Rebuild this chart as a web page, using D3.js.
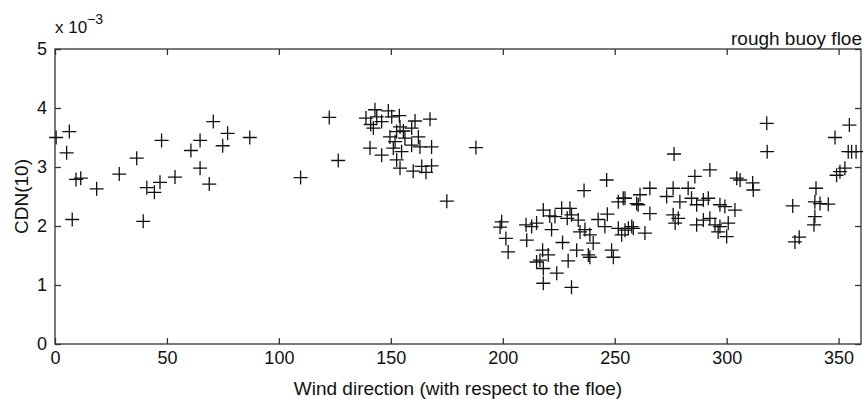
<!DOCTYPE html>
<html lang="en">
<head>
<meta charset="UTF-8">
<script src="https://cdn.jsdelivr.net/npm/d3@7"></script>
<title>CDN(10) vs wind direction</title>
<style>
    body { margin: 0; background: #fff; }
    text { font-family: 'Liberation Sans', Arial, sans-serif; fill: #111; }
    .axis path, .axis line { stroke: #333; stroke-width: 1.3px; }
</style>
</head>
<body>
<div id="chart"></div>
<script>
    // wind direction (deg) and CDN(10) in units of 1e-3
    const windDir = [
        0.5, 6.4, 5.2, 9.4, 11.5, 7.7, 18.6, 28.7, 36.5, 39.4, 41, 44.4, 46.9, 47.6, 53.6,
        60.7, 64.8, 64.8, 68.9, 70.7, 74.9, 77.1, 87, 109.7, 122.5, 126.5, 175, 188,
        138.9, 142.9, 141, 143.7, 142.2, 145.9, 148.9, 150.4, 153.8, 154.1, 160.8, 167.5,
        149.6, 152.6, 155.6, 159.3, 162.3, 140.7, 145.9, 151.1, 154.8, 159.3, 163, 168.2,
        152.6, 154.1, 160, 163.8, 168.2, 165.7, 156.3, 151.9,
        246.4, 236.3, 199.5, 198.8, 201.4, 202.4, 210.7, 212.9, 215.1, 218.1, 221.8, 223.3,
        226.3, 230, 228.8, 230.7, 226.7, 217.8, 216.6, 215.1, 220.3, 218.1, 224.1, 218.1,
        230.7, 229.2, 233, 234.5, 236.7, 238.9, 240.4, 238.2, 238.9, 242.6, 246.7, 245.6,
        248.6, 249.4, 251.6, 253.1, 254.6, 256.1, 258.3, 251.6, 253.8, 259.8, 233.7, 221, 210.4,
        292.5, 285.8, 304.5, 306, 311.9, 265.7, 261.3, 254.6, 276.1, 282.8, 273.2, 284.3,
        289.6, 291.8, 279.1, 286.6, 260.5, 297, 299.2, 303.7, 265.7, 276.1, 278.4, 277,
        286.6, 289.6, 292.5, 294.8, 297, 296.2, 300.7, 300, 257.6, 263.5, 276.5, 311.6,
        317.9, 318.1, 329.5, 330.5, 332.4, 339.9, 339.4, 339.4, 339, 341.7, 345.4, 348.4,
        354.8, 349.1, 350.6, 352.8, 354.3, 355.8, 357.8
    ];
    const cdn = [
        3.5, 3.6, 3.24, 2.79, 2.81, 2.11, 2.63, 2.88, 3.15, 2.08, 2.65, 2.57, 2.74, 3.45, 2.83,
        3.28, 3.45, 2.98, 2.71, 3.77, 3.36, 3.57, 3.5, 2.82, 3.84, 3.11, 2.42, 3.33,
        3.83, 3.97, 3.72, 3.85, 3.66, 3.77, 3.95, 3.85, 3.87, 3.68, 3.78, 3.81,
        3.51, 3.6, 3.61, 3.66, 3.51, 3.32, 3.2, 3.32, 3.26, 3.37, 3.34, 3.34,
        3.12, 2.98, 2.93, 3.01, 3.02, 2.91, 3.49, 3.43,
        2.78, 2.6, 2.07, 1.98, 1.79, 1.56, 1.76, 1.99, 2.05, 2.27, 1.94, 2.16,
        2.3, 2.3, 2.13, 2.19, 1.72, 1.59, 1.42, 1.39, 1.51, 1.28, 1.2, 1.03,
        0.96, 1.41, 1.59, 1.9, 1.94, 1.85, 1.71, 1.51, 1.47, 2.11, 2.2, 1.99,
        1.59, 1.47, 1.96, 1.85, 1.93, 1.96, 1.96, 2.41, 2.47, 2.38, 2.1, 2.17, 2.02,
        2.95, 2.84, 2.81, 2.78, 2.61, 2.64, 2.53, 2.47, 2.64, 2.64, 2.5, 2.47,
        2.44, 2.47, 2.41, 2.36, 2.36, 2.36, 2.33, 2.27, 2.21, 2.19, 2.13, 2.05,
        2.02, 2.1, 2.13, 2.02, 1.99, 1.9, 2.05, 1.82, 1.99, 1.88, 3.22, 2.73,
        3.74, 3.26, 2.34, 1.73, 1.81, 2.64, 2.41, 2.16, 2.02, 2.38, 2.37, 3.5,
        3.71, 2.86, 2.92, 2.98, 3.26, 3.26, 3.26
    ];
    const xTicks = [0, 50, 100, 150, 200, 250, 300, 350];
    const yTicks = [0, 1, 2, 3, 4, 5];

    const width = 864, height = 399;
    const margin = {top: 49, right: 3, bottom: 55, left: 55};

    const svg = d3.select("#chart").append("svg")
        .attr("width", width)
        .attr("height", height);

    const x = d3.scaleLinear().domain([0, 360]).range([margin.left, width - margin.right]);
    const y = d3.scaleLinear().domain([0, 5]).range([height - margin.bottom, margin.top]);

    const tk = 6;
    // bottom / left axes with labels
    svg.append("g").attr("class", "axis")
        .attr("transform", `translate(0,${y(0)})`)
        .call(d3.axisBottom(x).tickValues(xTicks).tickSize(-tk).tickPadding(7).tickFormat(d3.format("d")))
        .call(g => g.selectAll("text").style("font-size", "18px"));
    svg.append("g").attr("class", "axis")
        .attr("transform", `translate(${x(0)},0)`)
        .call(d3.axisLeft(y).tickValues(yTicks).tickSize(-tk).tickPadding(8).tickFormat(d3.format("d")))
        .call(g => g.selectAll("text").style("font-size", "18px"));
    // top / right axes, no labels
    svg.append("g").attr("class", "axis")
        .attr("transform", `translate(0,${y(5)})`)
        .call(d3.axisTop(x).tickValues(xTicks).tickSize(-tk).tickFormat(""));
    svg.append("g").attr("class", "axis")
        .attr("transform", `translate(${x(360)},0)`)
        .call(d3.axisRight(y).tickValues(yTicks).tickSize(-tk).tickFormat(""));
    svg.selectAll(".axis path").attr("d", null);
    svg.append("rect")
        .attr("x", x(0)).attr("y", y(5))
        .attr("width", x(360) - x(0)).attr("height", y(0) - y(5))
        .attr("fill", "none").attr("stroke", "#333").attr("stroke-width", 1.3);

    // plus markers
    const pts = windDir.map((d, i) => [d, cdn[i]]);
    const s = 7;
    svg.append("g")
        .selectAll("path")
        .data(pts)
        .enter()
        .append("path")
        .attr("d", d => {
            const px = x(d[0]), py = y(d[1]);
            return `M${px - s},${py}H${px + s}M${px},${py - s}V${py + s}`;
        })
        .attr("stroke", "#111")
        .attr("stroke-width", 1.3)
        .attr("fill", "none");

    // texts
    const expo = svg.append("text").attr("x", x(0)).attr("y", 33).style("font-size", "17px");
    expo.append("tspan").text("x 10");
    expo.append("tspan").attr("dy", -9).style("font-size", "14px").text("−3");

    svg.append("text")
        .attr("x", x(360) + 1).attr("y", 45)
        .attr("text-anchor", "end")
        .style("font-size", "19px")
        .text("rough buoy floe");

    svg.append("text")
        .attr("transform", `translate(28,${(y(0) + y(5)) / 2}) rotate(-90)`)
        .attr("text-anchor", "middle")
        .style("font-size", "19px")
        .text("CDN(10)");

    svg.append("text")
        .attr("x", (x(0) + x(360)) / 2).attr("y", 395)
        .attr("text-anchor", "middle")
        .style("font-size", "19px")
        .text("Wind direction (with respect to the floe)");
</script>
</body>
</html>
